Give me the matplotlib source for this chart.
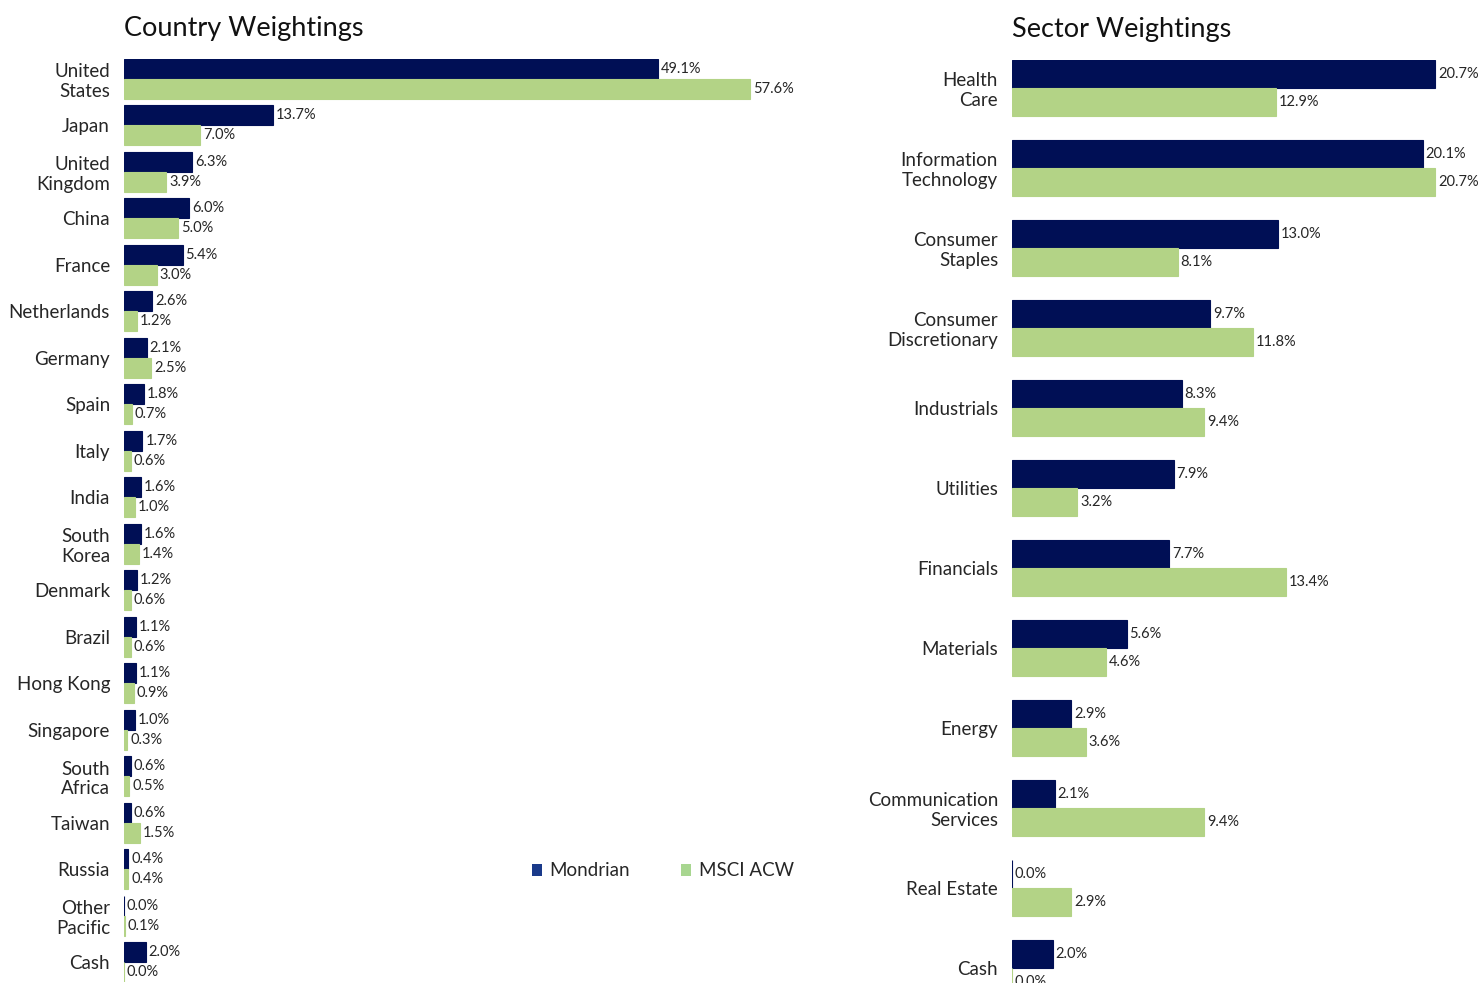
import matplotlib
matplotlib.use("Agg")
import matplotlib.pyplot as plt
from matplotlib.patches import Patch
import numpy as np

plt.rcParams['font.family'] = ['Lato', 'DejaVu Sans']

countries = ["United\nStates", "Japan", "United\nKingdom", "China", "France", "Netherlands",
             "Germany", "Spain", "Italy", "India", "South\nKorea", "Denmark", "Brazil",
             "Hong Kong", "Singapore", "South\nAfrica", "Taiwan", "Russia", "Other\nPacific", "Cash"]
country_mondrian = [49.1, 13.7, 6.3, 6.0, 5.4, 2.6, 2.1, 1.8, 1.7, 1.6, 1.6, 1.2, 1.1, 1.1, 1.0, 0.6, 0.6, 0.4, 0.0, 2.0]
country_msci = [57.6, 7.0, 3.9, 5.0, 3.0, 1.2, 2.5, 0.7, 0.6, 1.0, 1.4, 0.6, 0.6, 0.9, 0.3, 0.5, 1.5, 0.4, 0.1, 0.0]

sectors = ["Health\nCare", "Information\nTechnology", "Consumer\nStaples", "Consumer\nDiscretionary",
           "Industrials", "Utilities", "Financials", "Materials", "Energy",
           "Communication\nServices", "Real Estate", "Cash"]
sector_mondrian = [20.7, 20.1, 13.0, 9.7, 8.3, 7.9, 7.7, 5.6, 2.9, 2.1, 0.0, 2.0]
sector_msci = [12.9, 20.7, 8.1, 11.8, 9.4, 3.2, 13.4, 4.6, 3.6, 9.4, 2.9, 0.0]

series_names = ["Mondrian", "MSCI ACW"]

NAVY = "#000F55"
GREEN = "#B3D386"
TEXT = "#262626"

W, H = 1483, 983
fig = plt.figure(figsize=(W / 100, H / 100), dpi=100)


def px_axes(left, right, top, bottom):
    return fig.add_axes([left / W, 1 - bottom / H, (right - left) / W, (bottom - top) / H])


def draw(ax, cats, a, b, bh, xmax, ylo, title, fs_lab, fs_val):
    y = np.arange(len(cats))
    ax.barh(y - bh / 2, a, height=bh, color=NAVY, edgecolor=NAVY, linewidth=0.8)
    ax.barh(y + bh / 2, b, height=bh, color=GREEN, edgecolor=GREEN, linewidth=0.8)
    for yi, v in zip(y, a):
        ax.annotate(f"{v:.1f}%", (v, yi - bh / 2), xytext=(2, 0), textcoords="offset points",
                    va="center", ha="left", fontsize=fs_val, color=TEXT)
    for yi, v in zip(y, b):
        ax.annotate(f"{v:.1f}%", (v, yi + bh / 2), xytext=(2, 0), textcoords="offset points",
                    va="center", ha="left", fontsize=fs_val, color=TEXT, annotation_clip=False)
    ax.set_xlim(0, xmax)
    ax.set_ylim(ylo, -bh)
    ax.set_yticks(y)
    ax.set_yticklabels(cats, fontsize=fs_lab, color=TEXT)
    ax.tick_params(axis="y", length=0, pad=10)
    ax.set_xticks([])
    for s in ax.spines.values():
        s.set_visible(False)
    ax.set_title(title, loc="left", fontsize=19.5, color="#111111", pad=16.5, x=0.0)


axL = px_axes(124, 800, 59, 982)
draw(axL, countries, country_mondrian, country_msci, 0.43, 676 / 10.87, 19.43,
     "Country Weightings", 13.5, 10.5)

axR = px_axes(1012, 1483, 60, 983)
draw(axR, sectors, sector_mondrian, sector_msci, 0.35, 471 / 20.45, 11.19,
     "Sector Weightings", 13.5, 10.5)

handles = [Patch(facecolor="#1A3A8A", edgecolor="none"), Patch(facecolor="#A8D690", edgecolor="none")]
fig.legend(handles, series_names, loc="center left", bbox_to_anchor=(515 / W, 1 - 871 / H),
           ncol=2, frameon=False, fontsize=13.5, handlelength=0.55, handleheight=0.55,
           handletextpad=0.4, columnspacing=2.7, labelcolor=TEXT)

fig.savefig("out.png", dpi=100)
